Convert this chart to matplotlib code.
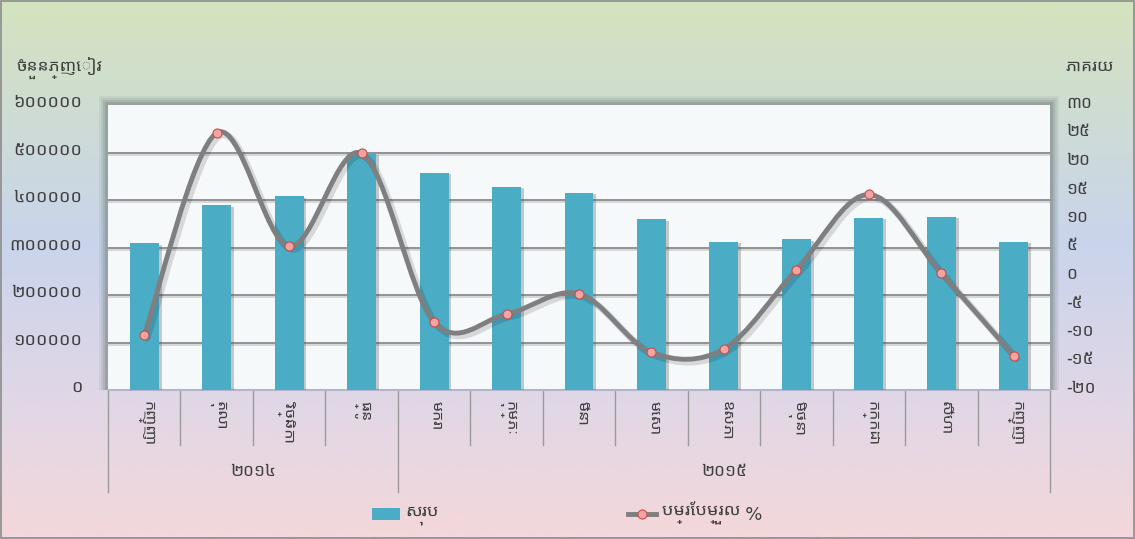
import numpy as np
import matplotlib
matplotlib.use("Agg")
import matplotlib.pyplot as plt
from matplotlib import font_manager
from matplotlib.ft2font import FT2Font
from matplotlib.patches import Rectangle
from matplotlib.path import Path
from matplotlib.patches import PathPatch
import matplotlib.patheffects as pe
import matplotlib.transforms as mtransforms

# look for a font that has Khmer glyphs (prefer a UI/Sans one)
khmer_fonts = []
for f in font_manager.fontManager.ttflist:
    try:
        if 0x1780 in FT2Font(f.fname).get_charmap():
            khmer_fonts.append(f.name)
    except Exception:
        pass
khmer_font = None
for pref in ['Noto Sans Khmer UI', 'Khmer OS System', 'Khmer UI', 'Noto Sans Khmer']:
    if pref in khmer_fonts:
        khmer_font = pref
        break
if khmer_font is None and khmer_fonts:
    khmer_font = khmer_fonts[0]
families = [khmer_font, 'DejaVu Sans'] if khmer_font else ['DejaVu Sans']
plt.rcParams['font.family'] = families

# data
months = ['កញ្ញា', 'តុលា', 'វិច្ឆិកា', 'ធ្នូ', 'មករា', 'កុម្ភៈ', 'មីនា',
          'មេសា', 'ឧសភា', 'មិថុនា', 'កក្កដា', 'សីហា', 'កញ្ញា']
years = ['២០១៤', '២០១៥']
year_counts = [4, 9]
total = [309000, 389000, 408000, 498000, 457000, 428000, 415000,
         359000, 312000, 317000, 363000, 365000, 312000]
change_pct = [-10.4, 25.1, 5.2, 21.5, -8.1, -6.7, -3.1,
              -13.4, -12.8, 1.1, 14.3, 0.5, -14.0]
left_ticks = [0, 100000, 200000, 300000, 400000, 500000, 600000]
left_labels = ['០', '១០០០០០', '២០០០០០', '៣០០០០០', '៤០០០០០', '៥០០០០០', '៦០០០០០']
right_ticks = [-20, -15, -10, -5, 0, 5, 10, 15, 20, 25, 30]
right_labels = ['-២០', '-១៥', '-១០', '-៥', '០', '៥', '១០', '១៥', '២០', '២៥', '៣០']
ylabel_left = 'ចំនួនភ្ញៀវ'
ylabel_right = 'ភាគរយ'
legend_bar = 'សរុប'
legend_line = 'បម្រែបម្រួល %'

W, H = 1135, 539
fig = plt.figure(figsize=(W / 100, H / 100), dpi=100)

# gradient background
bg = fig.add_axes([0, 0, 1, 1], zorder=-10)
bg.axis('off')
stops = np.array([[0.0, 212, 227, 190],
                  [0.45, 201, 212, 236],
                  [0.75, 225, 215, 230],
                  [1.0, 244, 215, 218]])
yy = np.linspace(0, 1, 300)
grad = np.stack([np.interp(yy, stops[:, 0], stops[:, c]) for c in (1, 2, 3)], axis=1) / 255
bg.imshow(grad[:, None, :], aspect='auto', extent=[0, 1, 0, 1], origin='upper')
bg.set_xlim(0, 1)
bg.set_ylim(0, 1)
bg.add_patch(Rectangle((0.001, 0.002), 0.998, 0.996, fill=False, ec='#8c8c8c', lw=1.2,
                       transform=fig.transFigure))

x0, x1, ytop, ybot = 108, 1050, 105, 390
ax = fig.add_axes([x0 / W, 1 - ybot / H, (x1 - x0) / W, (ybot - ytop) / H])

# soft shadow around plot area
for k, a in zip([9, 7, 5, 3], [0.10, 0.15, 0.2, 0.3]):
    fig.patches.append(Rectangle(((x0 - k) / W, 1 - ybot / H), (x1 - x0 + 2 * k) / W,
                                 (ybot - ytop + k) / H, transform=fig.transFigure,
                                 fc='#6f7d7a', ec='none', alpha=a, zorder=-5))

ax.set_facecolor('#f6f9fa')
xs = np.arange(len(months))
bars = ax.bar(xs, total, width=0.4, color='#4bacc6', zorder=3,
              path_effects=[pe.SimplePatchShadow(offset=(2, -1), shadow_rgbFace='#555555', alpha=0.3),
                            pe.Normal()])
ax.set_xlim(-0.5, len(months) - 0.5)
ax.set_ylim(0, 600000)
ax.set_yticks(left_ticks)
ax.set_yticklabels(left_labels, fontsize=13, color='#404040')
ax.tick_params(axis='y', length=0, pad=18.5)
ax.set_xticks([])
for v in left_ticks[1:-1]:
    ax.axhline(v, color='#8a8a8a', lw=1.3, zorder=1,
               path_effects=[pe.SimpleLineShadow(offset=(0, -1.5), alpha=0.15), pe.Normal()])
for s in ['top', 'left', 'right']:
    ax.spines[s].set_visible(False)
ax.spines['bottom'].set_color('#b4b4cc')
ax.spines['bottom'].set_linewidth(1.5)

# secondary axis with smoothed line
ax2 = ax.twinx()
ax2.set_ylim(-20, 30)
ax2.set_yticks(right_ticks)
ax2.set_yticklabels(right_labels, fontsize=12.5, color='#404040')
ax2.tick_params(axis='y', length=0, pad=11.5)
for s in ax2.spines.values():
    s.set_visible(False)

pts = np.column_stack([xs, change_pct]).astype(float)
verts = [pts[0]]
codes = [Path.MOVETO]
for i in range(len(pts) - 1):
    p_prev = pts[i - 1] if i > 0 else pts[i]
    p_next = pts[i + 2] if i + 2 < len(pts) else pts[i + 1]
    c1 = pts[i] + (pts[i + 1] - p_prev) / 6
    c2 = pts[i + 1] - (p_next - pts[i]) / 6
    verts += [c1, c2, pts[i + 1]]
    codes += [Path.CURVE4] * 3
curve = PathPatch(Path(verts, codes), fc='none', ec='#7f7f7f', lw=3.5, zorder=4,
                  capstyle='round', joinstyle='round',
                  path_effects=[pe.SimpleLineShadow(offset=(2, -2), alpha=0.13, linewidth=5), pe.Normal()])
ax2.add_patch(curve)
ax2.plot(xs, change_pct, ls='none', marker='o', ms=6.5, mfc='#f4a3a3', mec='#c0504d',
         mew=0.8, zorder=5)

# category axis: dividers, month labels, year labels
trans = mtransforms.blended_transform_factory(ax.transData, ax.transAxes)
month_bottom = -(445 - ybot) / (ybot - ytop)
year_bottom = -(492 - ybot) / (ybot - ytop)
bounds = np.cumsum([0] + year_counts) - 0.5
for b in np.arange(len(months) + 1) - 0.5:
    yb = year_bottom if b in bounds else month_bottom
    ax.plot([b, b], [0, yb], transform=trans, color='#9a9a9a', lw=1, clip_on=False)
for i, m in enumerate(months):
    ax.text(i, -(401 - ybot) / (ybot - ytop), m, transform=trans, rotation=270,
            ha='center', va='top', fontsize=11.5, color='#404040')
for yname, lo, hi in zip(years, bounds[:-1], bounds[1:]):
    ax.text((lo + hi) / 2, -(475 - ybot) / (ybot - ytop), yname, transform=trans,
            ha='center', va='center', fontsize=12.5, color='#404040')

# axis titles
fig.text(16 / W, 1 - 68 / H, ylabel_left, fontsize=12.5, color='#404040', va='center')
fig.text(1066 / W, 1 - 70 / H, ylabel_right, fontsize=12.5, color='#404040', va='center')

# legend
h_bar = Rectangle((0, 0), 1, 1, fc='#4bacc6', ec='none')
h_line = plt.Line2D([], [], color='#7f7f7f', lw=3.5, marker='o', ms=6.5,
                    mfc='#f4a3a3', mec='#c0504d', mew=0.8)
fig.legend([h_bar, h_line], [legend_bar, legend_line], loc='center',
           bbox_to_anchor=(567 / W, 1 - 513 / H), ncol=2, frameon=False, fontsize=13,
           handlelength=1.55, handletextpad=0.3, columnspacing=10.5,
           labelcolor='#404040')

fig.savefig('out.png', dpi=100)
